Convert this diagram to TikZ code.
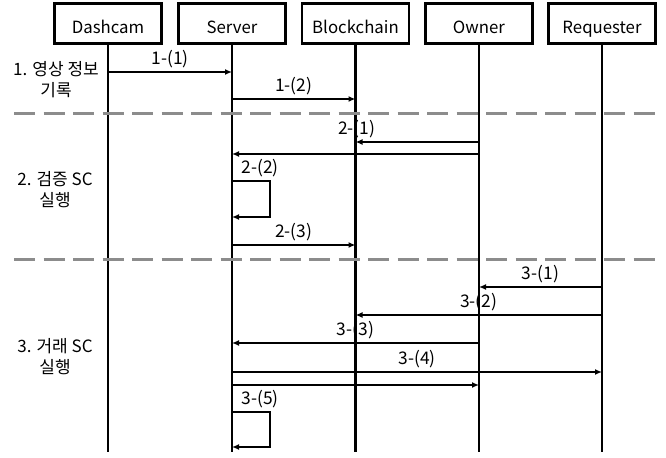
\documentclass[tikz,border=0pt]{standalone}
\usepackage{fontspec}
\setmainfont{Noto Sans CJK KR}
\usetikzlibrary{arrows.meta, positioning}
\tikzstyle{actor} = [rectangle, draw, line width=1.2pt, text centered, minimum width=53.5pt, minimum height=20pt, text height=10pt, text depth=0pt, fill=white, font=\fontsize{8.4}{10}\selectfont]
\tikzstyle{life} = [line width=1.1pt, black]
\tikzstyle{msg} = [line width=1pt, -{Latex[length=3.5pt, width=3pt]}, black]
\tikzstyle{phase} = [dash pattern=on 10.5pt off 4.25pt, line width=1.5pt, gray!90]
\tikzstyle{lbl} = [font=\fontsize{8.7}{9}\selectfont, inner sep=1.5pt]

\begin{document}
\begin{tikzpicture}[x=0.5pt, y=-0.5pt, font=\fontsize{8.5}{10.5}\selectfont]

	\useasboundingbox (0,0) rectangle (666,457);

	% Participants
	\node (cam) [actor] at (108,23.5) {Dashcam};
	\node (srv) [actor] at (232,23.5) {Server};
	\node (bc)  [actor] at (355.5,23.5) {Blockchain};
	\node (own) [actor] at (479,23.5) {Owner};
	\node (req) [actor] at (602,23.5) {Requester};

	% Lifelines
	\coordinate (camend) at (cam |- 0,452);
	\coordinate (srvend) at (srv |- 0,452);
	\coordinate (bcend)  at (bc |- 0,452);
	\coordinate (ownend) at (own |- 0,452);
	\coordinate (reqend) at (req |- 0,452);
	\draw[life] (cam.south) -- (camend);
	\draw[life] (srv.south) -- (srvend);
	\draw[life] (bc.south) -- (bcend);
	\draw[life] (own.south) -- (ownend);
	\draw[life] (req.south) -- (reqend);

	% Phase separators
	\coordinate (sep1a) at (14,113);
	\coordinate (sep1b) at (658,113);
	\coordinate (sep2a) at (14,259);
	\coordinate (sep2b) at (658,259);
	\draw[phase] (sep1a) -- (sep1b);
	\draw[phase] (sep2a) -- (sep2b);

	% Phase labels
	\node (ph1) [align=center] at (56,80) {1. 영상 정보\\기록};
	\node (ph2) [align=center] at (55,190) {2. 검증 SC\\실행};
	\node (ph3) [align=center] at (55,357) {3. 거래 SC\\실행};

	% Phase 1
	\draw[msg] (cam |- 0,72) -- (srv |- 0,72) node[midway, above, lbl] {1-(1)};
	\draw[msg] (srv |- 0,99) -- (bc |- 0,99) node[midway, above, lbl] {1-(2)};

	% Phase 2
	\draw[msg] (own |- 0,142) -- (bc |- 0,142) node[pos=0.99, above, lbl] {2-(1)};
	\draw[msg] (own |- 0,154) -- (srv |- 0,154);
	\draw[msg] (srv |- 0,181) -- ++(38,0) node[midway, above, lbl, xshift=4.5pt] {2-(2)} -- ++(0,36) -- (srv |- 0,217);
	\draw[msg] (srv |- 0,245) -- (bc |- 0,245) node[midway, above, lbl] {2-(3)};

	% Phase 3
	\draw[msg] (req |- 0,287) -- (own |- 0,287) node[midway, above, lbl] {3-(1)};
	\draw[msg] (req |- 0,315) -- (bc |- 0,315) node[midway, above, lbl] {3-(2)};
	\draw[msg] (own |- 0,343) -- (srv |- 0,343) node[midway, above, lbl] {3-(3)};
	\draw[msg] (srv |- 0,372) -- (req |- 0,372) node[midway, above, lbl] {3-(4)};
	\draw[msg] (srv |- 0,385) -- (own |- 0,385);
	\draw[msg] (srv |- 0,412) -- ++(38,0) node[midway, above, lbl, xshift=4.5pt] {3-(5)} -- ++(0,35) -- (srv |- 0,447);

\end{tikzpicture}
\end{document}
